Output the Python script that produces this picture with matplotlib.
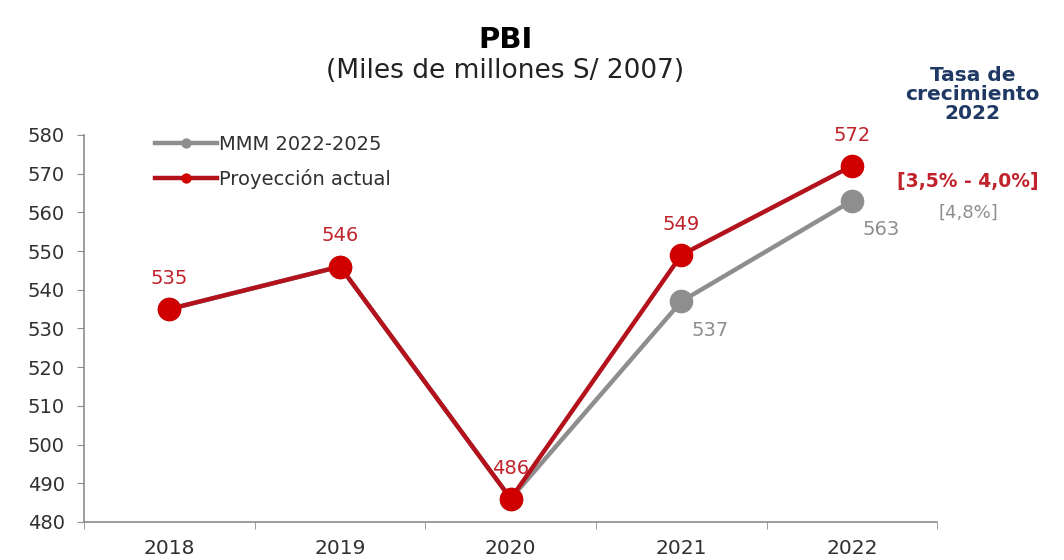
import matplotlib
matplotlib.use("Agg")
import matplotlib.pyplot as plt
import numpy as np

plt.rcParams['font.family'] = ['DejaVu Sans']

years = ["2018", "2019", "2020", "2021", "2022"]
mmm = [535, 546, 486, 537, 563]
actual = [535, 546, 486, 549, 572]
y_ticks = list(range(480, 581, 10))

RED_LINE = "#B3121C"
RED_MARK = "#D00000"
RED_TEXT = "#C0232B"
GRAY = "#8E8E8E"
AXIS = "#8C8C8C"
NAVY = "#1F3864"
TEXT = "#303030"

fig = plt.figure(figsize=(10.64, 5.6), dpi=100)
ax = fig.add_axes([0.079, 0.068, 0.802, 0.691])

x = np.arange(len(years))
ax.plot(x, mmm, color=GRAY, lw=3.2, marker='o', ms=16, mfc=GRAY, mec=GRAY,
        label="MMM 2022-2025", zorder=2)
ax.plot(x, actual, color=RED_LINE, lw=3.2, marker='o', ms=16, mfc=RED_MARK, mec=RED_MARK,
        label="Proyección actual", zorder=3)

# value labels
for i, v in enumerate(actual):
    ax.annotate(str(v), (i, v), xytext=(0, 22), textcoords='offset points',
                ha='center', va='center', color=RED_TEXT, fontsize=14, zorder=4)
for i in (3, 4):
    ax.annotate(str(mmm[i]), (i, mmm[i]), xytext=(21, -21), textcoords='offset points',
                ha='center', va='center', color=GRAY, fontsize=14)

ax.set_xlim(-0.5, 4.5)
ax.set_ylim(480, 580)
ax.set_yticks(y_ticks)
ax.set_xticks(x)
ax.set_xticklabels(years)
ax.set_xticks(np.arange(-0.5, 4.6, 1), minor=True)
ax.tick_params(axis='x', which='major', length=0, pad=12, labelsize=14.5, labelcolor=TEXT)
ax.tick_params(axis='x', which='minor', length=5, color=AXIS, direction='out')
ax.tick_params(axis='y', length=5, color=AXIS, labelsize=14, pad=9, labelcolor=TEXT)
for s in ('top', 'right'):
    ax.spines[s].set_visible(False)
for s in ('left', 'bottom'):
    ax.spines[s].set_color(AXIS)
    ax.spines[s].set_linewidth(1.2)

leg = ax.legend(loc='upper left', bbox_to_anchor=(0.083, 1.0), frameon=False,
                fontsize=14, markerscale=0.4, handlelength=3.2, handletextpad=0.1,
                labelspacing=0.75, borderpad=0, borderaxespad=0)
for t in leg.get_texts():
    t.set_color(TEXT)

fig.text(0.475, 0.928, "PBI", ha='center', va='center', fontsize=21, fontweight='bold')
fig.text(0.475, 0.873, "(Miles de millones S/ 2007)", ha='center', va='center',
         fontsize=19, color="#222222")

fig.text(0.914, 0.832, "Tasa de\ncrecimiento\n2022", ha='center', va='center',
         fontsize=14.5, fontweight='bold', color=NAVY, linespacing=1.0)
fig.text(0.91, 0.675, "[3,5% - 4,0%]", ha='center', va='center', fontsize=13.5,
         fontweight='bold', color=RED_TEXT)
fig.text(0.91, 0.621, "[4,8%]", ha='center', va='center', fontsize=13, color=GRAY)

fig.savefig("out.png", dpi=100)
